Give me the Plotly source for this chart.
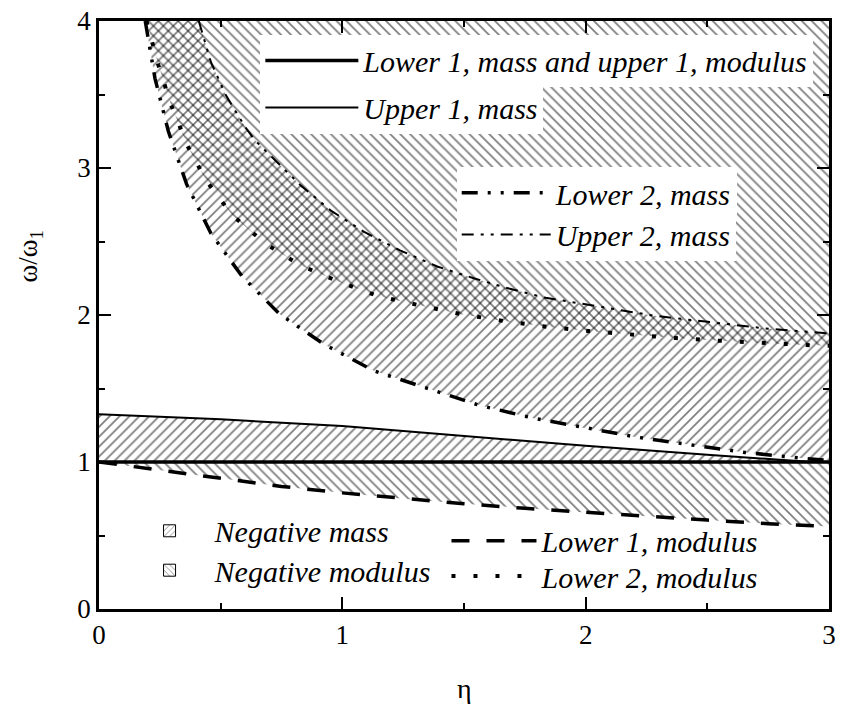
import plotly.graph_objects as go

# ---------------- data ----------------
eta_lower1_mass = [0.0, 3.0]
w_lower1_mass = [1.0, 1.0]          # also "upper 1, modulus"

eta_upper1_mass = [0.0, 0.5, 1.0, 1.5, 2.0, 2.5, 2.75, 2.9, 3.0]
w_upper1_mass = [1.325, 1.29, 1.245, 1.175, 1.11, 1.05, 1.018, 1.003, 1.0]

eta_lower1_mod = [0.0, 0.25, 0.5, 0.75, 1.0, 1.25, 1.5, 1.75, 2.0, 2.25, 2.5, 2.75, 3.0]
w_lower1_mod = [1.0, 0.945, 0.887, 0.834, 0.79, 0.75, 0.716, 0.685, 0.657, 0.631, 0.605, 0.58, 0.562]

eta_lower2_mass = [0.19, 0.23, 0.285, 0.36, 0.46, 0.587, 0.743, 0.926, 1.13, 1.347,
                   1.56, 1.78, 2.0, 2.21, 2.43, 2.655, 2.88, 3.0]
w_lower2_mass = [4.0, 3.61, 3.25, 2.89, 2.555, 2.265, 2.005, 1.80, 1.62, 1.50,
                 1.387, 1.30, 1.23, 1.169, 1.117, 1.065, 1.027, 1.01]

eta_upper2_mass = [0.41, 0.46, 0.52, 0.6, 0.64, 0.737, 0.83, 0.953, 1.09, 1.237, 1.39,
                   1.54, 1.685, 1.836, 2.0, 2.12, 2.28, 2.43, 2.6, 2.74, 2.9, 3.0]
w_upper2_mass = [4.0, 3.72, 3.50, 3.28, 3.19, 3.03, 2.88, 2.71, 2.565, 2.44, 2.33,
                 2.25, 2.18, 2.117, 2.07, 2.04, 1.995, 1.965, 1.935, 1.908, 1.888, 1.875]

eta_lower2_mod = [0.195, 0.244, 0.296, 0.364, 0.44, 0.547, 0.68, 0.825, 0.98, 1.144, 1.32,
                  1.49, 1.66, 1.84, 2.02, 2.19, 2.37, 2.55, 2.73, 2.906, 3.0]
w_lower2_mod = [4.0, 3.70, 3.43, 3.15, 2.915, 2.68, 2.49, 2.34, 2.23, 2.13, 2.065,
                2.005, 1.96, 1.92, 1.89, 1.866, 1.843, 1.825, 1.807, 1.796, 1.79]

X_RANGE = [0, 3]
Y_RANGE = [0, 4]
x_ticks = [0, 1, 2, 3]
y_ticks = [0, 1, 2, 3, 4]

SERIF = "'Liberation Serif', 'Times New Roman', Times, 'DejaVu Serif', serif"
HATCH = dict(size=7, solidity=0.25, fgcolor="black", bgcolor="rgba(0,0,0,0)")

fig = go.Figure()

def hatch_fill(xs, ys, shape):
    fig.add_trace(go.Scatter(
        x=xs, y=ys, mode="lines", fill="toself", line=dict(width=0, color="rgba(0,0,0,0)"),
        fillcolor="rgba(0,0,0,0)", fillpattern=dict(shape=shape, **HATCH),
        showlegend=False, hoverinfo="skip"))

# negative mass, band 1 (between lower 1 and upper 1 mass)
hatch_fill(eta_upper1_mass + eta_lower1_mass[::-1], w_upper1_mass + w_lower1_mass[::-1], "/")
# negative modulus, band 1 (between lower 1 modulus and upper 1 modulus)
hatch_fill(eta_lower1_mod + eta_lower1_mass[::-1], w_lower1_mod + w_lower1_mass[::-1], "\\")
# negative mass, band 2 (between lower 2 and upper 2 mass)
hatch_fill(eta_lower2_mass + eta_upper2_mass[::-1], w_lower2_mass + w_upper2_mass[::-1], "/")
# negative modulus, band 2 (above lower 2 modulus, up to the top of the plot)
hatch_fill(eta_lower2_mod + [eta_lower2_mod[-1], eta_lower2_mod[0]],
           w_lower2_mod + [Y_RANGE[1], Y_RANGE[1]], "\\")

def line(xs, ys, name, width, dash, legend):
    fig.add_trace(go.Scatter(
        x=xs, y=ys, mode="lines", name=name, legend=legend,
        line=dict(color="black", width=width, dash=dash)))

line(eta_lower1_mass, w_lower1_mass, "Lower 1, mass and upper 1, modulus", 3.5, "solid", "legend")
line(eta_upper1_mass, w_upper1_mass, "Upper 1, mass", 2, "solid", "legend2")
line(eta_lower2_mass, w_lower2_mass, "Lower 2, mass", 3.5, "16px,10px,3px,10px,3px,10px", "legend3")
line(eta_upper2_mass, w_upper2_mass, "Upper 2, mass", 2, "12px,7px,3px,7px,3px,7px", "legend4")
line(eta_lower1_mod, w_lower1_mod, "Lower 1, modulus", 3.5, "18px,17px", "legend7")
line(eta_lower2_mod, w_lower2_mod, "Lower 2, modulus", 4, "4px,18px", "legend8")

for name, shape, lg in [("Negative mass", "/", "legend5"), ("Negative modulus", "\\", "legend6")]:
    fig.add_trace(go.Bar(
        x=[None], y=[None], name=name, legend=lg,
        marker=dict(color="white", line=dict(color="black", width=1),
                    pattern=dict(shape=shape, size=5, solidity=0.2, fgcolor="black", bgcolor="white"))))

leg_font = dict(family=SERIF, size=30, color="black", style="italic")

def legend_at(x, y, bg, yanchor="top", itemwidth=88):
    return dict(x=x, y=y, xanchor="left", yanchor=yanchor, bgcolor=bg, borderwidth=0,
                font=leg_font, itemwidth=itemwidth, tracegroupgap=0)

fig.update_layout(
    width=842, height=709,
    margin=dict(l=99, r=6, t=15, b=100),
    paper_bgcolor="white", plot_bgcolor="white",
    showlegend=True,
    legend=legend_at(0.221, 0.977, "white", itemwidth=93),
    legend2=legend_at(0.221, 0.897, "white", itemwidth=93),
    legend3=legend_at(0.490, 0.752, "white", itemwidth=89),
    legend4=legend_at(0.490, 0.681, "white", itemwidth=89),
    legend5=legend_at(0.035, 0.133, "rgba(0,0,0,0)", "middle", 80),
    legend6=legend_at(0.035, 0.066, "rgba(0,0,0,0)", "middle", 80),
    legend7=legend_at(0.476, 0.116, "rgba(0,0,0,0)", "middle", 85),
    legend8=legend_at(0.476, 0.056, "rgba(0,0,0,0)", "middle", 85),
    font=dict(family=SERIF, color="black"),
)

axis_common = dict(
    showgrid=False, zeroline=False, showline=True, linecolor="black", linewidth=2.5,
    mirror="ticks", ticks="inside", ticklen=12, tickwidth=2, tickcolor="black",
    tickfont=dict(family=SERIF, size=27, color="black"),
    minor=dict(ticks="inside", ticklen=6, tickwidth=2, tickcolor="black", dtick=0.5),
)
fig.update_xaxes(range=X_RANGE, tickvals=x_ticks, **axis_common)
fig.update_yaxes(range=Y_RANGE, tickvals=y_ticks, **axis_common)

fig.add_annotation(text="η", xref="paper", yref="paper", x=0.5, y=-0.136,
                   showarrow=False, font=dict(family=SERIF, size=28, color="black"),
                   yanchor="middle")
fig.add_annotation(text="ω/ω<sub>1</sub>", xref="paper", yref="paper", x=-0.094, y=0.60,
                   showarrow=False, textangle=-90, font=dict(family=SERIF, size=27, color="black"),
                   xanchor="center", yanchor="middle")

fig.write_html("out.html")
